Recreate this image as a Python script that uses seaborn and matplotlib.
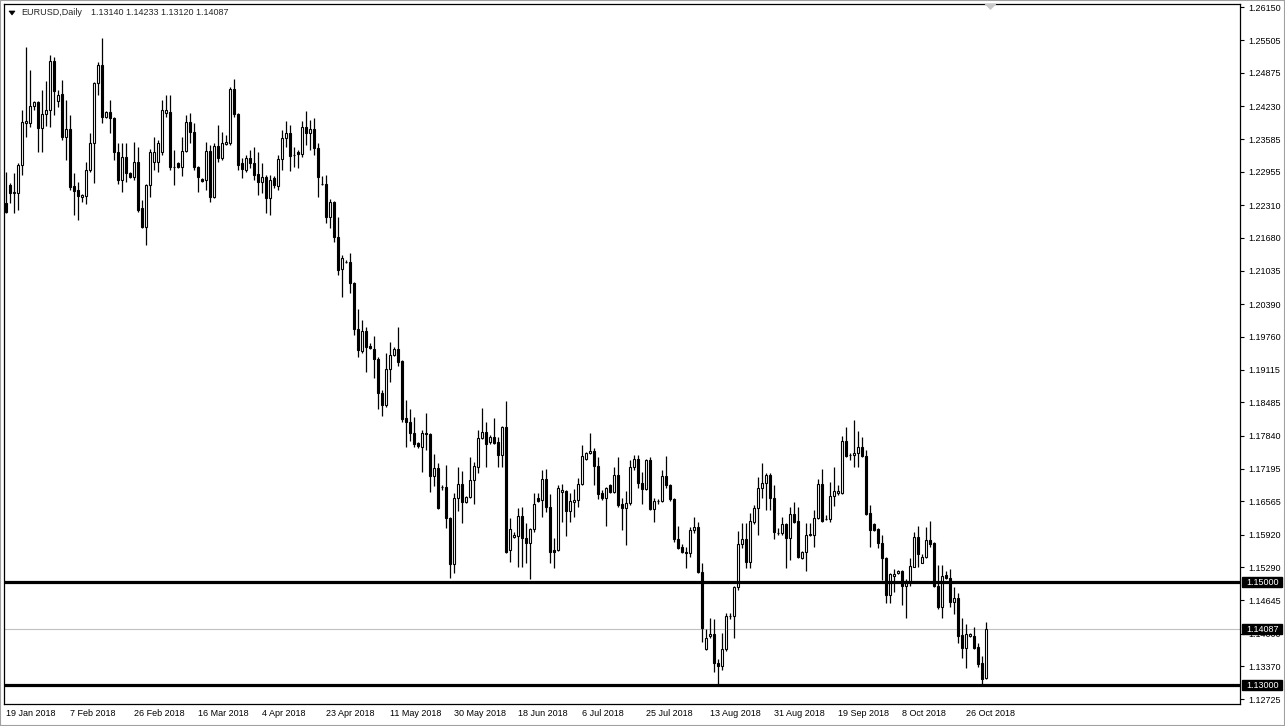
import numpy as np
import pandas as pd
import matplotlib
matplotlib.use("Agg")
import matplotlib.pyplot as plt
from matplotlib.patches import Polygon, Rectangle
import seaborn as sns

# style
sns.set_theme(style="white")
plt.rcParams['font.family'] = ['Liberation Sans', 'DejaVu Sans']

# data (EURUSD daily)
symbol = "EURUSD,Daily"

opens = [
    1.2235, 1.2270, 1.2255, 1.2255, 1.2309, 1.2390, 1.2390, 1.2423, 1.2431, 1.2381,
    1.2408, 1.2416, 1.2511, 1.2433, 1.2447, 1.2363, 1.2379, 1.2268, 1.2260, 1.2247,
    1.2249, 1.2299, 1.2352, 1.2468, 1.2503, 1.2402, 1.2412, 1.2400, 1.2334, 1.2280,
    1.2324, 1.2293, 1.2286, 1.2315, 1.2226, 1.2189, 1.2270, 1.2315, 1.2315, 1.2334,
    1.2410, 1.2412, 1.2305, 1.2313, 1.2305, 1.2336, 1.2392, 1.2373, 1.2305, 1.2282,
    1.2280, 1.2336, 1.2247, 1.2346, 1.2322, 1.2350, 1.2352, 1.2456, 1.2408, 1.2313,
    1.2299, 1.2322, 1.2313, 1.2291, 1.2276, 1.2286, 1.2245, 1.2284, 1.2268, 1.2321,
    1.2361, 1.2371, 1.2328, 1.2334, 1.2330, 1.2383, 1.2371, 1.2379, 1.2342, 1.2272,
    1.2272, 1.2208, 1.2237, 1.2169, 1.2107, 1.2121, 1.2121, 1.2080, 1.1991, 1.1948,
    1.1987, 1.1958, 1.1952, 1.1933, 1.1867, 1.1843, 1.1913, 1.1940, 1.1952, 1.1929,
    1.1818, 1.1810, 1.1789, 1.1770, 1.1762, 1.1789, 1.1787, 1.1706, 1.1721, 1.1684,
    1.1684, 1.1624, 1.1535, 1.1663, 1.1690, 1.1655, 1.1665, 1.1698, 1.1723, 1.1779,
    1.1791, 1.1772, 1.1781, 1.1772, 1.1746, 1.1801, 1.1562, 1.1587, 1.1589, 1.1628,
    1.1585, 1.1576, 1.1603, 1.1663, 1.1659, 1.1700, 1.1645, 1.1562, 1.1562, 1.1675,
    1.1677, 1.1638, 1.1655, 1.1659, 1.1690, 1.1738, 1.1750, 1.1754, 1.1725, 1.1673,
    1.1663, 1.1688, 1.1675, 1.1708, 1.1651, 1.1644, 1.1653, 1.1723, 1.1739, 1.1692,
    1.1680, 1.1737, 1.1642, 1.1657, 1.1657, 1.1706, 1.1688, 1.1661, 1.1583, 1.1568,
    1.1558, 1.1556, 1.1601, 1.1607, 1.1519, 1.1370, 1.1395, 1.1399, 1.1343, 1.1337,
    1.1370, 1.1434, 1.1434, 1.1490, 1.1574, 1.1583, 1.1539, 1.1616, 1.1644, 1.1682,
    1.1692, 1.1708, 1.1663, 1.1595, 1.1595, 1.1612, 1.1585, 1.1632, 1.1618, 1.1547,
    1.1558, 1.1591, 1.1591, 1.1624, 1.1690, 1.1622, 1.1622, 1.1667, 1.1673, 1.1673,
    1.1774, 1.1746, 1.1746, 1.1750, 1.1762, 1.1744, 1.1634, 1.1612, 1.1603, 1.1576,
    1.1547, 1.1475, 1.1512, 1.1517, 1.1521, 1.1492, 1.1500, 1.1529, 1.1587, 1.1537,
    1.1549, 1.1581, 1.1576, 1.1492, 1.1451, 1.1514, 1.1508, 1.1461, 1.1469, 1.1397,
    1.1372, 1.1395, 1.1395, 1.1374, 1.1343, 1.13140,
]
highs = [
    1.2295, 1.2274, 1.2293, 1.2313, 1.2416, 1.2538, 1.2493, 1.2433, 1.2433, 1.2454,
    1.2472, 1.2522, 1.2518, 1.2454, 1.2474, 1.2435, 1.2406, 1.2293, 1.2276, 1.2253,
    1.2315, 1.2371, 1.2470, 1.2509, 1.2555, 1.2414, 1.2435, 1.2402, 1.2352, 1.2352,
    1.2352, 1.2295, 1.2354, 1.2344, 1.2241, 1.2272, 1.2340, 1.2363, 1.2357, 1.2435,
    1.2445, 1.2445, 1.2338, 1.2315, 1.2363, 1.2406, 1.2410, 1.2390, 1.2307, 1.2284,
    1.2354, 1.2348, 1.2352, 1.2387, 1.2373, 1.2367, 1.2460, 1.2476, 1.2410, 1.2322,
    1.2328, 1.2338, 1.2344, 1.2334, 1.2313, 1.2289, 1.2289, 1.2288, 1.2328, 1.2377,
    1.2394, 1.2387, 1.2344, 1.2338, 1.2394, 1.2414, 1.2396, 1.2400, 1.2352, 1.2288,
    1.2289, 1.2243, 1.2239, 1.2208, 1.2134, 1.2124, 1.2138, 1.2082, 1.2029, 1.2008,
    1.1995, 1.1964, 1.1977, 1.1936, 1.1872, 1.1944, 1.1966, 1.1956, 1.1995, 1.1931,
    1.1853, 1.1836, 1.1820, 1.1772, 1.1795, 1.1828, 1.1789, 1.1748, 1.1731, 1.1688,
    1.1727, 1.1626, 1.1673, 1.1723, 1.1715, 1.1667, 1.1742, 1.1733, 1.1795, 1.1838,
    1.1810, 1.1785, 1.1818, 1.1781, 1.1803, 1.1851, 1.1624, 1.1597, 1.1644, 1.1646,
    1.1614, 1.1605, 1.1673, 1.1673, 1.1717, 1.1719, 1.1671, 1.1585, 1.1688, 1.1690,
    1.1679, 1.1673, 1.1680, 1.1702, 1.1766, 1.1752, 1.1789, 1.1760, 1.1742, 1.1679,
    1.1684, 1.1690, 1.1723, 1.1742, 1.1663, 1.1677, 1.1737, 1.1746, 1.1746, 1.1713,
    1.1739, 1.1742, 1.1663, 1.1661, 1.1717, 1.1744, 1.1690, 1.1663, 1.1609, 1.1574,
    1.1568, 1.1607, 1.1626, 1.1616, 1.1537, 1.1409, 1.1430, 1.1428, 1.1351, 1.1401,
    1.1440, 1.1440, 1.1492, 1.1599, 1.1614, 1.1614, 1.1634, 1.1649, 1.1704, 1.1731,
    1.1711, 1.1711, 1.1688, 1.1605, 1.1626, 1.1614, 1.1646, 1.1655, 1.1646, 1.1560,
    1.1614, 1.1614, 1.1640, 1.1700, 1.1719, 1.1630, 1.1694, 1.1723, 1.1688, 1.1783,
    1.1801, 1.1750, 1.1814, 1.1793, 1.1781, 1.1756, 1.1649, 1.1614, 1.1605, 1.1591,
    1.1549, 1.1517, 1.1525, 1.1523, 1.1523, 1.1506, 1.1547, 1.1597, 1.1609, 1.1554,
    1.1607, 1.1618, 1.1578, 1.1533, 1.1533, 1.1521, 1.1525, 1.1490, 1.1479, 1.1430,
    1.1418, 1.1401, 1.1413, 1.1382, 1.1356, 1.14233,
]
lows = [
    1.2216, 1.2235, 1.2216, 1.2222, 1.2289, 1.2363, 1.2383, 1.2416, 1.2334, 1.2334,
    1.2385, 1.2383, 1.2406, 1.2421, 1.2357, 1.2319, 1.2260, 1.2212, 1.2202, 1.2237,
    1.2233, 1.2295, 1.2274, 1.2445, 1.2390, 1.2400, 1.2371, 1.2319, 1.2272, 1.2257,
    1.2276, 1.2284, 1.2280, 1.2218, 1.2187, 1.2154, 1.2247, 1.2299, 1.2295, 1.2328,
    1.2402, 1.2299, 1.2270, 1.2303, 1.2288, 1.2334, 1.2352, 1.2299, 1.2257, 1.2276,
    1.2260, 1.2237, 1.2245, 1.2315, 1.2319, 1.2348, 1.2348, 1.2402, 1.2299, 1.2284,
    1.2295, 1.2303, 1.2280, 1.2251, 1.2255, 1.2216, 1.2212, 1.2264, 1.2260, 1.2299,
    1.2344, 1.2297, 1.2305, 1.2303, 1.2324, 1.2348, 1.2338, 1.2328, 1.2247, 1.2271,
    1.2196, 1.2187, 1.2159, 1.2095, 1.2053, 1.2118, 1.2061, 1.1979, 1.1936, 1.1944,
    1.1907, 1.1952, 1.1896, 1.1836, 1.1822, 1.1839, 1.1888, 1.1938, 1.1919, 1.1810,
    1.1762, 1.1774, 1.1762, 1.1760, 1.1713, 1.1756, 1.1675, 1.1686, 1.1642, 1.1678,
    1.1605, 1.1508, 1.1517, 1.1638, 1.1614, 1.1653, 1.1663, 1.1651, 1.1711, 1.1777,
    1.1723, 1.1768, 1.1768, 1.1723, 1.1723, 1.1556, 1.1539, 1.1585, 1.1529, 1.1529,
    1.1537, 1.1506, 1.1597, 1.1655, 1.1626, 1.1636, 1.1537, 1.1527, 1.1560, 1.1616,
    1.1589, 1.1616, 1.1626, 1.1645, 1.1688, 1.1736, 1.1748, 1.1688, 1.1661, 1.1659,
    1.1609, 1.1673, 1.1673, 1.1645, 1.1601, 1.1572, 1.1649, 1.1717, 1.1682, 1.1651,
    1.1678, 1.1640, 1.1616, 1.1651, 1.1655, 1.1682, 1.1657, 1.1577, 1.1564, 1.1556,
    1.1527, 1.1549, 1.1595, 1.1517, 1.1384, 1.1368, 1.1391, 1.1325, 1.1298, 1.1330,
    1.1366, 1.1428, 1.1391, 1.1484, 1.1566, 1.1527, 1.1527, 1.1612, 1.1591, 1.1663,
    1.1640, 1.1640, 1.1583, 1.1591, 1.1591, 1.1527, 1.1543, 1.1614, 1.1547, 1.1545,
    1.1521, 1.1589, 1.1568, 1.1622, 1.1616, 1.1620, 1.1616, 1.1647, 1.1669, 1.1671,
    1.1742, 1.1737, 1.1723, 1.1723, 1.1742, 1.1630, 1.1568, 1.1599, 1.1566, 1.1504,
    1.1459, 1.1459, 1.1481, 1.1516, 1.1455, 1.1430, 1.1492, 1.1529, 1.1529, 1.1537,
    1.1547, 1.1568, 1.1490, 1.1447, 1.1430, 1.1506, 1.1451, 1.1438, 1.1382, 1.1353,
    1.1333, 1.1393, 1.1370, 1.1335, 1.1300, 1.13120,
]
closes = [
    1.2218, 1.2255, 1.2256, 1.2309, 1.2392, 1.2394, 1.2423, 1.2431, 1.2381, 1.2408,
    1.2416, 1.2511, 1.2452, 1.2445, 1.2363, 1.2379, 1.2266, 1.2258, 1.2249, 1.2251,
    1.2299, 1.2352, 1.2468, 1.2503, 1.2402, 1.2412, 1.2400, 1.2334, 1.2280, 1.2324,
    1.2293, 1.2286, 1.2315, 1.2222, 1.2189, 1.2270, 1.2334, 1.2334, 1.2352, 1.2416,
    1.2416, 1.2305, 1.2306, 1.2305, 1.2336, 1.2392, 1.2373, 1.2305, 1.2286, 1.2278,
    1.2336, 1.2247, 1.2346, 1.2322, 1.2352, 1.2354, 1.2456, 1.2408, 1.2309, 1.2301,
    1.2322, 1.2313, 1.2289, 1.2276, 1.2286, 1.2245, 1.2280, 1.2270, 1.2321, 1.2361,
    1.2371, 1.2326, 1.2328, 1.2330, 1.2383, 1.2371, 1.2379, 1.2342, 1.2286, 1.2272,
    1.2208, 1.2237, 1.2169, 1.2105, 1.2128, 1.2121, 1.2080, 1.1991, 1.1950, 1.1987,
    1.1956, 1.1954, 1.1933, 1.1867, 1.1843, 1.1913, 1.1940, 1.1952, 1.1927, 1.1816,
    1.1810, 1.1789, 1.1768, 1.1764, 1.1789, 1.1787, 1.1706, 1.1721, 1.1644, 1.1684,
    1.1624, 1.1535, 1.1663, 1.1690, 1.1655, 1.1665, 1.1698, 1.1725, 1.1779, 1.1791,
    1.1768, 1.1781, 1.1770, 1.1746, 1.1801, 1.1558, 1.1603, 1.1591, 1.1628, 1.1585,
    1.1576, 1.1603, 1.1651, 1.1657, 1.1700, 1.1645, 1.1558, 1.1558, 1.1682, 1.1678,
    1.1638, 1.1657, 1.1659, 1.1690, 1.1744, 1.1750, 1.1754, 1.1725, 1.1671, 1.1663,
    1.1682, 1.1675, 1.1708, 1.1649, 1.1644, 1.1653, 1.1723, 1.1739, 1.1692, 1.1680,
    1.1737, 1.1642, 1.1657, 1.1657, 1.1706, 1.1688, 1.1661, 1.1583, 1.1566, 1.1558,
    1.1556, 1.1601, 1.1607, 1.1519, 1.1411, 1.1391, 1.1399, 1.1343, 1.1337, 1.1370,
    1.1434, 1.1434, 1.1490, 1.1574, 1.1583, 1.1539, 1.1618, 1.1644, 1.1682, 1.1692,
    1.1708, 1.1663, 1.1597, 1.1595, 1.1612, 1.1585, 1.1632, 1.1616, 1.1549, 1.1558,
    1.1591, 1.1593, 1.1624, 1.1690, 1.1618, 1.1622, 1.1667, 1.1677, 1.1677, 1.1774,
    1.1744, 1.1746, 1.1750, 1.1762, 1.1744, 1.1632, 1.1601, 1.1601, 1.1576, 1.1547,
    1.1475, 1.1516, 1.1516, 1.1521, 1.1492, 1.1502, 1.1531, 1.1587, 1.1554, 1.1549,
    1.1581, 1.1574, 1.1492, 1.1451, 1.1512, 1.1508, 1.1461, 1.1469, 1.1395, 1.1372,
    1.1399, 1.1399, 1.1372, 1.1341, 1.1312, 1.14087,
]

price_ticks = [1.26150, 1.25505, 1.24875, 1.24230, 1.23585, 1.22955, 1.22310,
               1.21680, 1.21035, 1.20390, 1.19760, 1.19115, 1.18485, 1.17840,
               1.17195, 1.16565, 1.15920, 1.15290, 1.14645, 1.14000, 1.13370,
               1.12725]
date_ticks = ["19 Jan 2018", "7 Feb 2018", "26 Feb 2018", "16 Mar 2018",
              "4 Apr 2018", "23 Apr 2018", "11 May 2018", "30 May 2018",
              "18 Jun 2018", "6 Jul 2018", "25 Jul 2018", "13 Aug 2018",
              "31 Aug 2018", "19 Sep 2018", "8 Oct 2018", "26 Oct 2018"]
levels = [1.15000, 1.13000]

# broker has sunday bars, no saturday
days = pd.date_range("2018-01-19", "2018-11-01", freq="D")
days = days[days.dayofweek != 5]
df = pd.DataFrame({"date": days, "open": opens, "high": highs,
                   "low": lows, "close": closes})
df["x"] = np.arange(len(df))
df["label"] = [f"{d.day} {d.strftime('%b %Y')}" for d in df["date"]]
bid = df["close"].iloc[-1]

W, H = 1285, 726
fig = plt.figure(figsize=(W / 100, H / 100), dpi=100)
fig.patch.set_facecolor("white")
ax = fig.add_axes([4 / W, 22.5 / H, 1236 / W, 699.5 / H])
ax.set_facecolor("white")

# candles
up = df["close"] >= df["open"]
ax.vlines(df["x"], df["low"], df["high"], colors="black", linewidth=0.9, zorder=2)
body_lo = np.minimum(df["open"], df["close"])
body_h = (df["close"] - df["open"]).abs()
ax.bar(df["x"], body_h, bottom=body_lo, width=0.5,
       color=np.where(up, "white", "black"), edgecolor="black",
       linewidth=0.8, zorder=3)

# levels and bid line
for lv in levels:
    ax.axhline(lv, color="black", linewidth=2.3, zorder=4)
ax.axhline(bid, color="#c0c0c0", linewidth=0.8, zorder=1)

ax.set_xlim(-0.375, 308.625)
ax.set_ylim(1.12643, 1.26213)

# axes
ax.yaxis.tick_right()
ax.set_yticks(price_ticks)
ax.set_yticklabels([f"{p:.5f}" for p in price_ticks])
pos = [int(df.index[df["label"] == t][0]) for t in date_ticks]
ax.set_xticks(pos)
ax.set_xticklabels(date_ticks, ha="left")
ax.tick_params(axis="both", direction="out", length=3, width=0.8,
               colors="black", labelsize=6.5)
ax.tick_params(axis="y", pad=3.2, left=False, right=True)
ax.tick_params(axis="x", pad=1.0)
for s in ax.spines.values():
    s.set_color("black")
    s.set_linewidth(0.9)
ax.grid(False)

# price boxes on the right (the bid box sits over the 1.14000 label)
for p in levels + [bid]:
    ax.add_patch(Rectangle((1.0014, p - 0.00102), 0.0324, 0.00204,
                           transform=ax.get_yaxis_transform(), clip_on=False,
                           facecolor="black", edgecolor="black", zorder=6))
    ax.text(1.0054, p, f"{p:.5f}", transform=ax.get_yaxis_transform(),
            color="white", fontsize=6.5, va="center", ha="left",
            clip_on=False, zorder=7)

# header
fig.add_artist(Polygon([(9 / W, 1 - 11 / H), (15 / W, 1 - 11 / H), (12 / W, 1 - 15 / H)],
                       closed=True, transform=fig.transFigure,
                       facecolor="black", edgecolor="black", linewidth=0.5))
fig.text(21 / W, 1 - 12.5 / H, symbol, fontsize=6.5, va="center", ha="left")
fig.text(91 / W, 1 - 12.5 / H,
         " ".join(f"{v:.5f}" for v in [opens[-1], highs[-1], lows[-1], closes[-1]]),
         fontsize=6.5, va="center", ha="left")

# chart shift marker
fig.add_artist(Polygon([(985 / W, 1 - 4 / H), (996 / W, 1 - 4 / H), (990.5 / W, 1 - 9.5 / H)],
                       closed=True, transform=fig.transFigure,
                       facecolor="#c8c8c8", edgecolor="#c8c8c8", linewidth=0.5))

# window frame
fig.add_artist(Rectangle((0, 0), 1, 1, transform=fig.transFigure, fill=False,
                         edgecolor="#a0a0a0", linewidth=1.5))

fig.savefig("out.png", dpi=100)
